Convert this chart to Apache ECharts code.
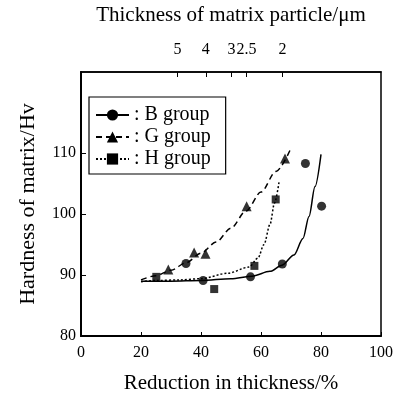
<!DOCTYPE html>
<html><head><meta charset="utf-8">
<script src="https://cdn.jsdelivr.net/npm/echarts@6/dist/echarts.min.js"></script>
<style>html,body{margin:0;padding:0;background:#fff}#c{width:402px;height:394px}</style>
</head><body><div id="c"></div>
<script>
// Measured points
const bPoints = [[35,91.9],[40.7,89.1],[56.5,89.7],[67.1,91.8],[74.8,108.3],[80.2,101.3]];
const gPoints = [[29.1,90.9],[37.7,93.7],[41.5,93.5],[55.2,101.3],[68,109.1]];
const hPoints = [[25.1,89.7],[44.4,87.7],[57.8,91.5],[64.9,102.4]];
// Fitted curves
const bCurveX = [20,30,40,50,57,63,67,71,74,76,78,80];
const bCurveY = [89.0,89.0,89.1,89.4,89.8,90.6,91.6,93.3,96.0,99.6,104.5,109.8];
const gCurveX = [20,25,30,35,40,45,50,55,60,65,70];
const gCurveY = [89.2,89.9,90.8,92.0,93.6,95.4,97.7,100.5,103.6,107.0,110.8];
const hCurveX = [20,25,33,40,49,56,59,61,63,64.5,66];
const hCurveY = [88.9,89.1,89.2,89.4,90.3,91.3,92.8,95.0,98.3,101.8,105.2];
// Axis ticks
const xTicks = [0,20,40,60,80,100];
const yTicks = [80,90,100,110];
const topTickPos = [32.2,41.6,50.2,55.2,67.2];
const topTickLabels = ['5','4','3','2.5','2'];
const groupNames = ['B group','G group','H group'];

const zip = (xs, ys) => xs.map((x, i) => [x, ys[i]]);
const FONT = 'Liberation Serif';
const chart = echarts.init(document.getElementById('c'), null, {renderer: 'canvas'});
const symbols = ['circle','triangle','rect'];
const lineTypes = ['solid',[6,4],[2,2]];
const curves = [zip(bCurveX,bCurveY), zip(gCurveX,gCurveY), zip(hCurveX,hCurveY)];
const points = [bPoints, gPoints, hPoints];
const series = [];
groupNames.forEach((n, i) => {
  series.push({
    name: n, type: 'line', data: curves[i], smooth: 0.3, smoothMonotone: 'x',
    symbol: symbols[i], symbolSize: 9, showSymbol: false,
    lineStyle: {color: '#000', width: 1.5, type: lineTypes[i]},
    itemStyle: {color: '#000'}, silent: true, animation: false
  });
  series.push({
    name: n + ' pts', type: 'scatter', data: points[i], symbol: symbols[i],
    symbolSize: i === 1 ? 10 : (i === 2 ? 8 : 9),
    itemStyle: {color: '#000'}, animation: false
  });
});

chart.setOption({
  animation: false,
  backgroundColor: '#fff',
  grid: {left: 81, right: 21, top: 72, bottom: 58, show: true, borderColor: '#000', borderWidth: 1.5,
    containLabel: false, outerBoundsMode: 'none'},
  legend: {
    data: groupNames, orient: 'vertical', left: 89, top: 97,
    padding: [8, 15, 5, 6], itemGap: 2, itemWidth: 33, itemHeight: 14,
    borderColor: '#000', borderWidth: 1.2, backgroundColor: '#fff',
    formatter: name => ': ' + name,
    textStyle: {fontFamily: FONT, fontSize: 20, color: '#000'}
  },
  xAxis: [{
    type: 'value', min: 0, max: 100, interval: 20, position: 'bottom',
    name: 'Reduction in thickness/%', nameLocation: 'middle', nameGap: 37,
    nameTextStyle: {fontFamily: FONT, fontSize: 21, color: '#000'},
    axisLine: {lineStyle: {color: '#000', width: 2}},
    axisTick: {inside: true, length: 4, lineStyle: {color: '#000'}, customValues: xTicks},
    axisLabel: {fontFamily: FONT, fontSize: 16, color: '#000', margin: 9, customValues: xTicks},
    splitLine: {show: false}
  }, {
    type: 'value', min: 0, max: 100, position: 'top',
    name: 'Thickness of matrix particle/\u03bcm', nameLocation: 'middle', nameGap: 46,
    nameTextStyle: {fontFamily: FONT, fontSize: 21, color: '#000'},
    axisLine: {lineStyle: {color: '#000', width: 1.5}},
    axisTick: {inside: true, length: 5, lineStyle: {color: '#000'}, customValues: topTickPos},
    axisLabel: {fontFamily: FONT, fontSize: 16, color: '#000', margin: 14, customValues: topTickPos,
      formatter: v => { const k = topTickPos.indexOf(v); return k >= 0 ? topTickLabels[k] : ''; }},
    splitLine: {show: false}
  }],
  yAxis: {
    type: 'value', min: 80, max: 123.3, interval: 10,
    name: 'Hardness of matrix/Hv', nameLocation: 'middle', nameGap: 42,
    nameTextStyle: {fontFamily: FONT, fontSize: 22, color: '#000'},
    axisLine: {show: true, lineStyle: {color: '#000', width: 2}},
    axisTick: {show: true, inside: true, length: 5, lineStyle: {color: '#000'}, customValues: yTicks},
    axisLabel: {fontFamily: FONT, fontSize: 16, color: '#000', margin: 5, customValues: yTicks},
    splitLine: {show: false}
  },
  series: series
});
</script></body></html>
